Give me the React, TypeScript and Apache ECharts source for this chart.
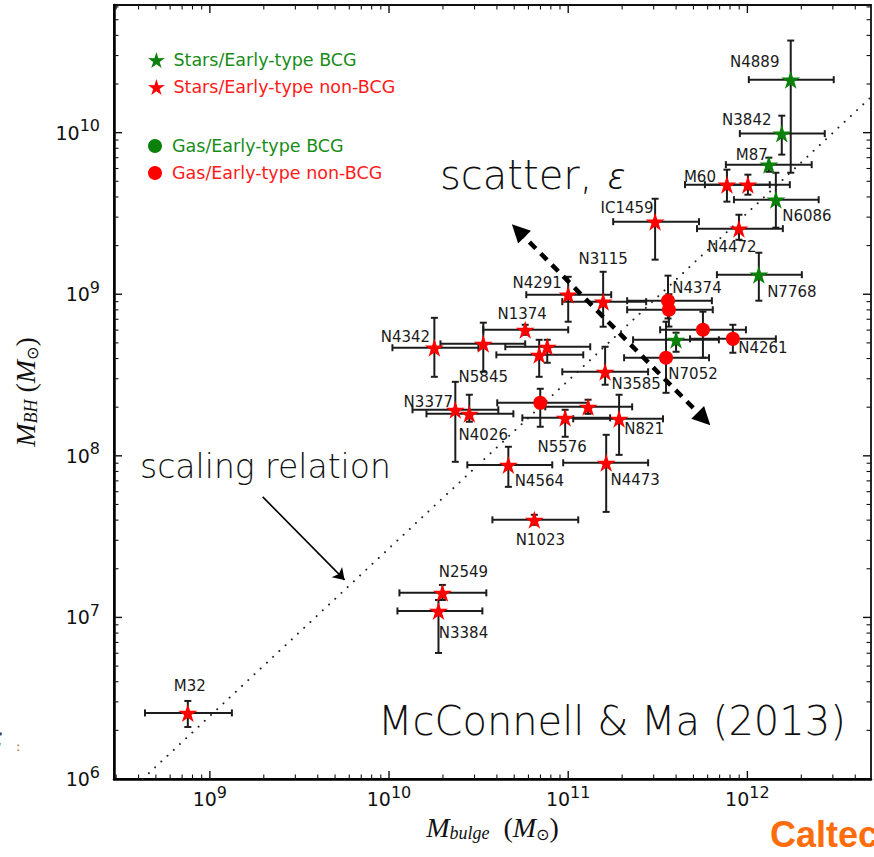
import React, { useEffect, useRef } from "react";
import * as echarts from "echarts";

// ---- data (log10 of solar masses) ----
const NAMES = ["N4889","N3842","M87","M60","","N6086","IC1459","N4472","N7768","N4291","N3115","N4374","","N1374","N4342","N5845","","","N3585","N3377","N4026","","","N5576","N821","N4564","N4473","N1023","N2549","N3384","M32","","","N4261","N7052"];
// SB = stars/BCG, SN = stars/non-BCG, GB = gas/BCG, GN = gas/non-BCG
const GROUPS = ["SB","SB","SB","SN","SN","SB","SN","SN","SB","SN","SN","GN","GN","SN","SN","SN","SN","SN","SN","SN","SN","GN","SN","SN","SN","SN","SN","SN","SN","SN","SN","GN","SB","GN","GN"];
const LOG_MBULGE = [12.242,12.192,12.120,11.886,12.003,12.159,11.485,11.953,12.064,11.000,11.195,11.557,11.562,10.760,10.253,10.526,10.883,10.838,11.206,10.370,10.448,10.844,11.111,10.983,11.284,10.666,11.212,10.811,10.298,10.276,8.877,11.752,11.602,11.919,11.546];
const LOG_MBH = [10.328,9.994,9.802,9.678,9.678,9.585,9.449,9.406,9.121,8.997,8.954,8.960,8.904,8.780,8.669,8.693,8.675,8.625,8.520,8.285,8.260,8.328,8.303,8.235,8.229,7.944,7.957,7.604,7.152,7.040,6.409,8.780,8.718,8.724,8.607];
const MBULGE_LO = [12.008,11.958,11.880,11.652,11.763,11.925,11.251,11.719,11.830,10.766,10.967,11.329,11.329,10.526,10.019,10.287,10.649,10.599,10.967,10.131,10.209,10.604,10.872,10.744,11.028,10.437,10.972,10.577,10.058,10.047,8.638,11.513,11.362,11.680,11.312];
const MBULGE_HI = [12.482,12.432,12.359,12.125,12.237,12.398,11.730,12.198,12.304,11.240,11.435,11.802,11.807,11.000,10.499,10.760,11.123,11.084,11.446,10.610,10.694,11.111,11.357,11.234,11.529,10.911,11.446,11.056,10.543,10.521,9.123,11.992,11.841,12.159,11.786];
const MBH_LO = [9.752,9.864,9.758,9.573,9.616,9.412,9.214,9.337,8.960,8.830,8.799,8.850,8.800,8.749,8.489,8.520,8.576,8.489,8.440,7.963,8.211,8.180,8.260,8.118,8.006,7.808,7.653,7.573,7.108,6.780,6.322,8.607,8.644,8.638,8.390];
const MBH_HI = [10.570,10.105,9.845,9.771,9.740,9.752,9.591,9.492,9.257,9.108,9.139,9.115,9.000,8.811,8.854,8.824,8.718,8.718,8.675,8.458,8.378,8.415,8.347,8.285,8.378,8.056,8.130,7.635,7.201,7.108,6.483,8.892,8.762,8.811,8.830];

// scaling relation (dotted) endpoints, arrows (log10 coords)
const FIT_LINE = [[8.625, 6.0], [12.69, 10.22]];
const SCATTER_ARROW = [[10.721, 9.393], [11.758, 8.229]];
const SCALING_ARROW = [[9.295, 7.746], [9.752, 7.232]];

const X_MIN = 8.465, X_MAX = 12.69, Y_MIN = 6, Y_MAX = 10.79;
const X_DECADES = [8, 9, 10, 11, 12];
const Y_DECADES = [6, 7, 8, 9, 10];

const SERIES_NAMES = {
  SB: "Stars/Early-type BCG",
  SN: "Stars/Early-type non-BCG",
  GB: "Gas/Early-type BCG",
  GN: "Gas/Early-type non-BCG",
};

// label placement (pixel offsets from the marker)
const LABEL_OFFSET: Record<string, number[]> = {
  N4889: [-36, -18], N3842: [-35, -14], M87: [-17, -10], M60: [-27, -8], N6086: [31, 16],
  IC1459: [-28, -14], N4472: [-7, 18], N7768: [33, 17], N4291: [-31, -12], N3115: [0, -43],
  N4374: [29, -13], N1374: [-3, -16], N4342: [-29, -11], N5845: [0, 33], N3585: [31, 12],
  N3377: [-27, -8], N4026: [14, 21], N5576: [-3, 29], N821: [25, 10], N4261: [30, 9],
  N7052: [27, 16], N4564: [31, 16], N4473: [29, 17], N1023: [6, 20], N2549: [21, -21],
  N3384: [25, 22], M32: [2, -27],
};

const GREEN = "#0b800b";
const RED = "#ff0000";
const STAR = "path://M50,0 L61.17,34.63 L97.55,34.55 L68.07,55.87 L79.39,90.45 L50,69 L20.61,90.45 L31.93,55.87 L2.45,34.55 L38.83,34.63 Z";

function buildTicks() {
  const out: number[][] = [];
  for (const d of X_DECADES)
    for (let k = 1; k <= 9; k++) {
      const v = d + Math.log10(k);
      if (v > X_MIN + 1e-6 && v < X_MAX - 1e-6) out.push([v, 0, k === 1 ? 1 : 0]);
    }
  for (const d of Y_DECADES)
    for (let k = 1; k <= 9; k++) {
      const v = d + Math.log10(k);
      if (v > Y_MIN + 1e-6 && v < Y_MAX - 1e-6) out.push([v, 1, k === 1 ? 1 : 0]);
    }
  return out;
}

const powLabel = (v: number) => {
  const r = Math.round(v);
  if (Math.abs(v - r) > 1e-6) return "";
  return "{b|10}{s|" + r + "}";
};

const labelRich = {
  b: { fontSize: 19, lineHeight: 30, fontFamily: "DejaVu Sans", color: "#111" },
  s: { fontSize: 16, lineHeight: 16, verticalAlign: "top", fontFamily: "DejaVu Sans", color: "#111" },
};

const nameRich = {
  i: { fontSize: 28, lineHeight: 30, fontFamily: "Liberation Serif", fontStyle: "italic", color: "#111" },
  n: { fontSize: 28, lineHeight: 30, fontFamily: "Liberation Serif", color: "#111" },
  sb: { fontSize: 18, lineHeight: 18, verticalAlign: "bottom", fontFamily: "Liberation Serif", fontStyle: "italic", color: "#111" },
  so: { fontSize: 16, lineHeight: 16, verticalAlign: "bottom", fontFamily: "DejaVu Sans", color: "#111" },
};

function scatterSeries(group: string, symbol: string, size: number | number[], color: string) {
  const data: any[] = [];
  NAMES.forEach((n, i) => {
    if (GROUPS[i] !== group) return;
    const off = LABEL_OFFSET[n];
    data.push({
      name: n,
      value: [LOG_MBULGE[i], LOG_MBH[i]],
      label: { show: !!off, offset: off || [0, 0] },
    });
  });
  return {
    type: "scatter",
    name: (SERIES_NAMES as any)[group],
    symbol,
    symbolSize: size,
    z: 4,
    silent: true,
    itemStyle: { color, opacity: 1 },
    emphasis: { disabled: true },
    label: {
      position: "inside",
      formatter: "{b}",
      color: "#1a1a1a",
      fontSize: 15,
      fontFamily: "DejaVu Sans",
    },
    data,
  };
}

export default function App() {
  const ref = useRef<HTMLDivElement>(null);
  useEffect(() => {
    const chart = echarts.init(ref.current!, null, { renderer: "svg" });
    const errData = NAMES.map((_, i) => [LOG_MBULGE[i], LOG_MBH[i], MBULGE_LO[i], MBULGE_HI[i], MBH_LO[i], MBH_HI[i]]);
    const option: any = {
      animation: false,
      backgroundColor: "#fff",
      grid: { left: 114, right: 2, top: 5, bottom: 78, show: true, borderColor: "#111", borderWidth: 1.8 },
      xAxis: {
        type: "value",
        min: X_MIN,
        max: X_MAX,
        splitLine: { show: false },
        axisTick: { show: false },
        axisLine: { show: true, onZero: false, lineStyle: { color: "#000", width: 2.5 } },
        axisLabel: { formatter: powLabel, rich: labelRich, margin: 5 },
        name: "{i|M}{sb|bulge}{n|  (}{i|M}{so|⊙}{n|)}",
        nameLocation: "middle",
        nameGap: 22,
        nameTextStyle: { rich: nameRich },
      },
      yAxis: {
        type: "value",
        min: Y_MIN,
        max: Y_MAX,
        interval: 1,
        splitLine: { show: false },
        axisTick: { show: false },
        axisLine: { show: true, onZero: false, lineStyle: { color: "#000", width: 2.5 } },
        axisLabel: { formatter: powLabel, rich: labelRich, margin: 14 },
        name: "{i|M}{sb|BH}{n| (}{i|M}{so|⊙}{n|)}",
        nameLocation: "middle",
        nameGap: 74,
        nameTextStyle: { rich: nameRich },
      },
      legend: [
        {
          orient: "vertical", left: 143, top: 46, itemWidth: 24, itemHeight: 16, itemGap: 9,
          selectedMode: false,
          textStyle: { fontSize: 17.5, fontFamily: "DejaVu Sans" },
          data: [
            { name: SERIES_NAMES.SB, textStyle: { color: "#178c17" } },
            { name: SERIES_NAMES.SN, textStyle: { color: "#ff1a1a" } },
          ],
        },
        {
          orient: "vertical", left: 143, top: 132, itemWidth: 24, itemHeight: 14, itemGap: 9,
          selectedMode: false,
          textStyle: { fontSize: 17.5, fontFamily: "DejaVu Sans" },
          data: [
            { name: SERIES_NAMES.GB, textStyle: { color: "#178c17" } },
            { name: SERIES_NAMES.GN, textStyle: { color: "#ff1a1a" } },
          ],
        },
      ],
      graphic: [
        { type: "text", x: 440, y: 175, silent: true, style: { text: "scatter,", fontSize: 40, fontFamily: "DejaVu Sans", fontWeight: 200, fill: "#111", verticalAlign: "middle", textVerticalAlign: "middle" } },
        { type: "text", x: 608, y: 174, silent: true, style: { text: "ε", fontSize: 37, fontFamily: "Noto Sans", fontWeight: 300, fontStyle: "italic", fill: "#111", verticalAlign: "middle", textVerticalAlign: "middle" } },
        { type: "text", x: 140, y: 466, silent: true, style: { text: "scaling relation", fontSize: 33, fontFamily: "DejaVu Sans", fontWeight: 200, fill: "#111", verticalAlign: "middle", textVerticalAlign: "middle" } },
        { type: "text", x: 378, y: 721, silent: true, style: { text: "McConnell & Ma (2013)", fontSize: 40, fontFamily: "DejaVu Sans", fontWeight: 200, fill: "#111", verticalAlign: "middle", textVerticalAlign: "middle" } },
        { type: "text", x: 770, y: 834, silent: true, style: { text: "Caltech", fontSize: 36, fontWeight: "bold", fontFamily: "Liberation Sans", fill: "#FF6C0C", verticalAlign: "middle", textVerticalAlign: "middle" } },
        { type: "text", x: -12, y: 737, silent: true, style: { text: "ε", fontSize: 28, fontFamily: "DejaVu Serif", fontStyle: "italic", fill: "#444", verticalAlign: "middle", textVerticalAlign: "middle" } },
        { type: "text", x: 16, y: 746, silent: true, style: { text: ":", fontSize: 13, fontFamily: "DejaVu Sans", fill: "#a0642a", verticalAlign: "middle", textVerticalAlign: "middle" } },
      ],
      series: [
        {
          type: "line",
          data: FIT_LINE,
          symbol: "none",
          silent: true,
          z: 1,
          lineStyle: { color: "#222", width: 2, type: [0.01, 8.5], cap: "round" },
        },
        {
          type: "custom",
          name: "errors",
          silent: true,
          z: 2,
          dimensions: ["x", "y", "xl", "xh", "yl", "yh"],
          encode: { x: 0, y: 1 },
          data: errData,
          renderItem: (params: any, api: any) => {
            const x = api.value(0), y = api.value(1);
            const L = api.coord([api.value(2), y]);
            const R = api.coord([api.value(3), y]);
            const B = api.coord([x, api.value(4)]);
            const T = api.coord([x, api.value(5)]);
            const c = 3.5;
            const st = { stroke: "#1c1c1c", lineWidth: 2 };
            return {
              type: "group",
              children: [
                { type: "line", shape: { x1: L[0], y1: L[1], x2: R[0], y2: R[1] }, style: st },
                { type: "line", shape: { x1: L[0], y1: L[1] - c, x2: L[0], y2: L[1] + c }, style: st },
                { type: "line", shape: { x1: R[0], y1: R[1] - c, x2: R[0], y2: R[1] + c }, style: st },
                { type: "line", shape: { x1: T[0], y1: T[1], x2: B[0], y2: B[1] }, style: st },
                { type: "line", shape: { x1: T[0] - c, y1: T[1], x2: T[0] + c, y2: T[1] }, style: st },
                { type: "line", shape: { x1: B[0] - c, y1: B[1], x2: B[0] + c, y2: B[1] }, style: st },
              ],
            };
          },
        },
        {
          type: "custom",
          name: "ticks",
          silent: true,
          z: 3,
          data: buildTicks(),
          renderItem: (params: any, api: any) => {
            const v = api.value(0), t = api.value(1), major = api.value(2);
            const len = major ? 8 : 4.5;
            const st = { stroke: "#111", lineWidth: major ? 1.4 : 1.1 };
            if (t === 0) {
              const b = api.coord([v, Y_MIN]);
              const tp = api.coord([v, Y_MAX]);
              return {
                type: "group",
                children: [
                  { type: "line", shape: { x1: b[0], y1: b[1], x2: b[0], y2: b[1] - len }, style: st },
                  { type: "line", shape: { x1: tp[0], y1: tp[1], x2: tp[0], y2: tp[1] + len }, style: st },
                ],
              };
            }
            const l = api.coord([X_MIN, v]);
            const r = api.coord([X_MAX, v]);
            return {
              type: "group",
              children: [
                { type: "line", shape: { x1: l[0], y1: l[1], x2: l[0] + len, y2: l[1] }, style: st },
                { type: "line", shape: { x1: r[0], y1: r[1], x2: r[0] - len, y2: r[1] }, style: st },
              ],
            };
          },
        },
        {
          type: "lines",
          coordinateSystem: "cartesian2d",
          silent: true,
          z: 5,
          symbol: ["triangle", "triangle"],
          symbolSize: 18,
          lineStyle: { color: "#000", width: 4.5, type: [9, 7], opacity: 1, curveness: 0 },
          itemStyle: { color: "#000" },
          data: [{ coords: SCATTER_ARROW }],
        },
        {
          type: "lines",
          coordinateSystem: "cartesian2d",
          silent: true,
          z: 5,
          symbol: ["none", "arrow"],
          symbolSize: 11,
          lineStyle: { color: "#000", width: 1.6, opacity: 1, curveness: 0 },
          itemStyle: { color: "#000" },
          data: [{ coords: SCALING_ARROW }],
        },
        scatterSeries("SB", STAR, [19, 18], GREEN),
        scatterSeries("SN", STAR, [19, 18], RED),
        scatterSeries("GB", "circle", 14, GREEN),
        scatterSeries("GN", "circle", 14, RED),
      ],
    };
    chart.setOption(option);
    return () => chart.dispose();
  }, []);
  return (
    <div
      ref={ref}
      style={{ position: "fixed", left: 0, top: 0, width: 874, height: 857, background: "#fff" }}
    />
  );
}
